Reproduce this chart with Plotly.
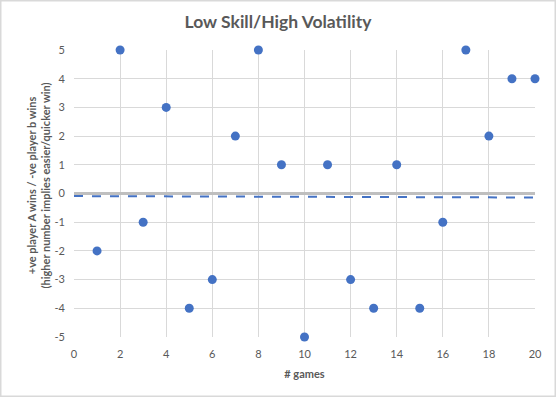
import plotly.graph_objects as go

games = list(range(1, 21))
scores = [-2, 5, -1, 3, -4, -3, 2, 5, 1, -5, 1, -3, -4, 1, -4, -1, 5, 2, 4, 4]
trend_x = [0, 20]
trend_y = [-0.09, -0.14]
x_ticks = list(range(0, 21, 2))
y_ticks = list(range(-5, 6))
y_tick_labels = [str(v) for v in y_ticks]

FONT = "Lato, 'Liberation Sans', sans-serif"
GREY = "#595959"
L, R, T, B = 74, 21, 50, 60
PW, PH = 556 - L - R, 397 - T - B

fig = go.Figure()
fig.add_trace(go.Scatter(x=games, y=scores, mode="markers",
                         marker=dict(color="#4472C4", size=9),
                         cliponaxis=False, showlegend=False))
fig.add_trace(go.Scatter(x=trend_x, y=trend_y, mode="lines",
                         line=dict(color="#4472C4", width=2, dash="dash"),
                         hoverinfo="skip", showlegend=False))

fig.update_layout(
    width=556, height=397,
    paper_bgcolor="white", plot_bgcolor="white",
    margin=dict(l=L, r=R, t=T, b=B, autoexpand=False),
    font=dict(family=FONT, color=GREY, size=11),
    title=dict(text="<b>Low Skill/High Volatility</b>", x=0.5, xanchor="center",
               y=1 - 22 / 397, yanchor="middle",
               font=dict(family=FONT, size=17.5, color=GREY)),
    xaxis=dict(range=[0, 20], tickvals=x_ticks, showgrid=True, gridcolor="#d9d9d9",
               gridwidth=1, zeroline=False, showline=False, ticks="",
               ticklabelstandoff=9,
               title=dict(text="<b># games</b>", font=dict(size=11, color=GREY), standoff=11),
               tickfont=dict(size=11, color=GREY)),
    yaxis=dict(range=[-5, 5], tickvals=y_ticks, ticktext=y_tick_labels,
               showgrid=True, gridcolor="#d9d9d9",
               gridwidth=1, zeroline=True, zerolinecolor="#bfbfbf", zerolinewidth=3,
               showline=False, ticks="", ticklabelstandoff=8,
               tickfont=dict(size=11, color=GREY)),
)
fig.add_annotation(
    text="<b>+ve player A wins / -ve player b wins<br>(higher number implies easier/quicker win)</b>",
    xref="paper", yref="paper", x=(37.5 - L) / PW, y=(397 - B - 186) / PH,
    xanchor="center", yanchor="middle", textangle=-90, showarrow=False,
    font=dict(family=FONT, size=11, color=GREY))
# outer border around the whole chart
fig.add_shape(type="rect", xref="paper", yref="paper",
              x0=-(L - 0.75) / PW, x1=1 + (R - 0.75) / PW,
              y0=-(B - 0.75) / PH, y1=1 + (T - 0.75) / PH,
              line=dict(color="#d9d9d9", width=1.5), layer="above")
fig.write_html("out.html", config={"displayModeBar": False},
               post_script="document.body.style.margin='0';")
